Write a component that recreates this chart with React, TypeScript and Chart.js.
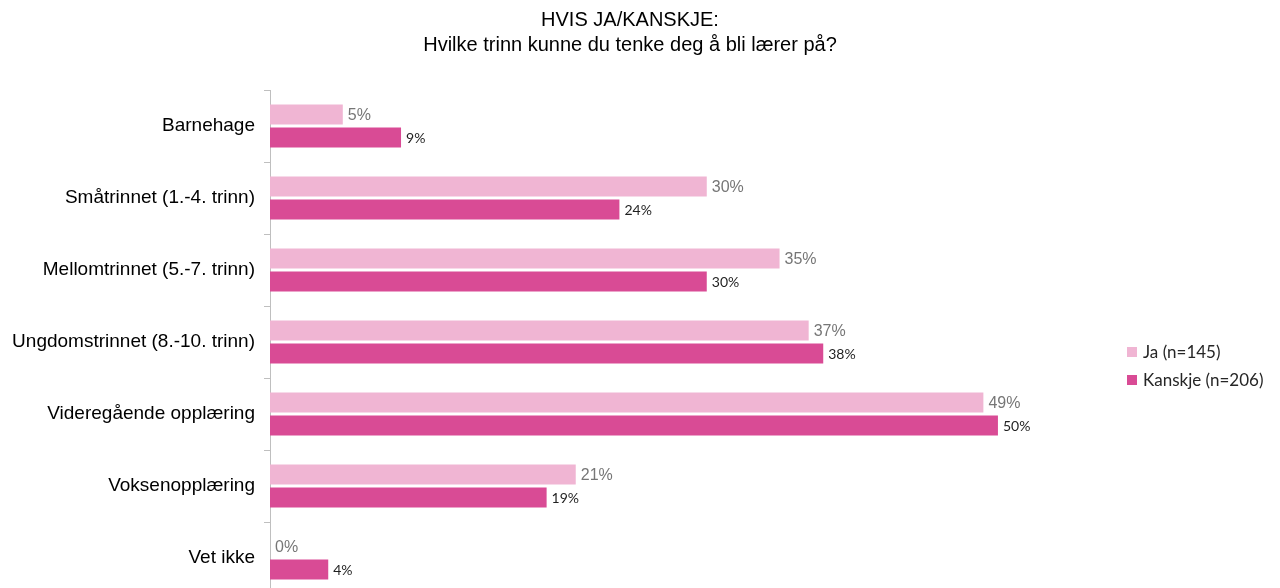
import React, { useEffect, useRef } from "react";
import { Chart, registerables } from "chart.js";

Chart.register(...registerables);

const categories = [
  "Barnehage",
  "Småtrinnet (1.-4. trinn)",
  "Mellomtrinnet (5.-7. trinn)",
  "Ungdomstrinnet (8.-10. trinn)",
  "Videregående opplæring",
  "Voksenopplæring",
  "Vet ikke",
];
const jaValues = [5, 30, 35, 37, 49, 21, 0];
const kanskjeValues = [9, 24, 30, 38, 50, 19, 4];
const seriesLabels = ["Ja (n=145)", "Kanskje (n=206)"];
const titleLines = ["HVIS JA/KANSKJE:", "Hvilke trinn kunne du tenke deg å bli lærer på?"];

const JA_COLOR = "#F0B5D3";
const KANSKJE_COLOR = "#D94B95";

const labelPlugin = {
  id: "valueLabels",
  afterDatasetsDraw(chart: any) {
    const ctx = chart.ctx;
    ctx.save();
    chart.data.datasets.forEach((ds: any, di: number) => {
      const meta = chart.getDatasetMeta(di);
      meta.data.forEach((bar: any, i: number) => {
        const v = ds.data[i];
        if (di === 0) {
          ctx.font = '16px "Liberation Sans", Arial, sans-serif';
          ctx.fillStyle = "#767676";
        } else {
          ctx.font = '14px Lato, "Open Sans", sans-serif';
          ctx.fillStyle = "#1f1f1f";
        }
        ctx.textAlign = "left";
        ctx.textBaseline = "middle";
        ctx.fillText(v + "%", bar.x + 5, bar.y + 1);
      });
    });
    ctx.restore();
  },
};

const legendPlugin = {
  id: "customLegend",
  afterDraw(chart: any) {
    const ctx = chart.ctx;
    ctx.save();
    const x = 1127;
    const ys = [352, 380];
    chart.data.datasets.forEach((ds: any, di: number) => {
      const y = ys[di];
      ctx.fillStyle = ds.backgroundColor;
      ctx.fillRect(x, y - 5, 10, 10);
      ctx.font = '17px Lato, "Open Sans", sans-serif';
      ctx.fillStyle = "#262626";
      ctx.textAlign = "left";
      ctx.textBaseline = "middle";
      ctx.fillText(ds.label, x + 16, y + 1);
    });
    ctx.restore();
  },
};

export default function App() {
  const ref = useRef<HTMLCanvasElement>(null);
  useEffect(() => {
    if (!ref.current) return;
    const chart = new Chart(ref.current, {
      type: "bar",
      data: {
        labels: categories,
        datasets: [
          {
            label: seriesLabels[0],
            data: jaValues,
            backgroundColor: JA_COLOR,
            categoryPercentage: 0.64,
            barPercentage: 0.87,
          },
          {
            label: seriesLabels[1],
            data: kanskjeValues,
            backgroundColor: KANSKJE_COLOR,
            categoryPercentage: 0.64,
            barPercentage: 0.87,
          },
        ],
      },
      options: {
        indexAxis: "y",
        responsive: false,
        animation: false,
        layout: { padding: { left: 0, right: 20, top: 0, bottom: 0 } },
        plugins: {
          legend: { display: false },
          tooltip: { enabled: false },
          title: {
            display: true,
            text: titleLines,
            color: "#000",
            font: { family: '"Liberation Sans", Arial, sans-serif', size: 20, weight: "normal", lineHeight: 1.25 },
            padding: { top: 7.5, bottom: 32.5 },
          },
        },
        scales: {
          x: {
            display: false,
            min: 0,
            max: 68,
          },
          y: {
            afterFit(scale: any) {
              scale.width = 270;
              scale.paddingTop = 0;
              scale.paddingBottom = 0;
            },
            grid: {
              display: true,
              offset: true,
              drawOnChartArea: false,
              drawTicks: true,
              tickLength: 6,
              color: "#bfbfbf",
            },
            border: { display: true, color: "#bfbfbf", width: 1 },
            ticks: {
              color: "#000",
              padding: 9,
              font: { family: '"Liberation Sans", Arial, sans-serif', size: 19 },
            },
          },
        },
      },
      plugins: [labelPlugin, legendPlugin],
    });
    return () => chart.destroy();
  }, []);
  return (
    <div style={{ position: "fixed", left: 0, top: 0, width: 1280, height: 588, overflow: "hidden", background: "#fff" }}>
      <canvas ref={ref} width={1280} height={594} style={{ display: "block" }} />
    </div>
  );
}
